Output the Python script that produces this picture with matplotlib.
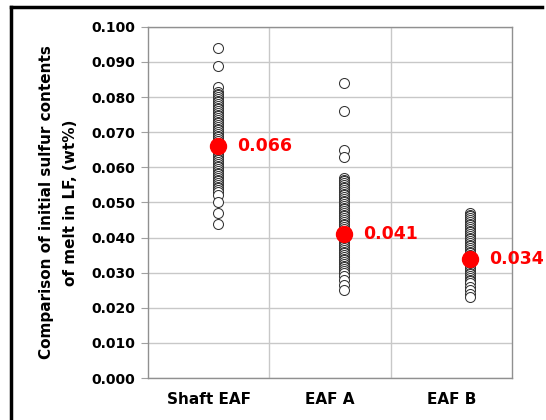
import matplotlib.pyplot as plt
from matplotlib.lines import Line2D

plt.rcParams['font.family'] = ['DejaVu Sans']

categories = ['Shaft EAF', 'EAF A', 'EAF B']

shaft_eaf = [0.094, 0.089, 0.083, 0.0815, 0.081, 0.0805, 0.080, 0.0795, 0.079, 0.0785,
             0.078, 0.0775, 0.077, 0.0765, 0.076, 0.0755, 0.075, 0.0745, 0.074, 0.0735,
             0.073, 0.0725, 0.072, 0.0715, 0.071, 0.0705, 0.070, 0.0695, 0.069, 0.0685,
             0.068, 0.0675, 0.067, 0.0665, 0.066, 0.0655, 0.065, 0.0645, 0.064, 0.0635,
             0.063, 0.0625, 0.062, 0.0615, 0.061, 0.0605, 0.060, 0.0595, 0.059, 0.0585,
             0.058, 0.0575, 0.057, 0.0565, 0.056, 0.0555, 0.055, 0.0545, 0.054, 0.0535,
             0.053, 0.052, 0.050, 0.047, 0.044]
eaf_a = [0.084, 0.076, 0.065, 0.063, 0.057, 0.0565, 0.056, 0.0555, 0.055, 0.0545,
         0.054, 0.0535, 0.053, 0.0525, 0.052, 0.0515, 0.051, 0.0505, 0.050, 0.0495,
         0.049, 0.0485, 0.048, 0.0475, 0.047, 0.0465, 0.046, 0.0455, 0.045, 0.0445,
         0.044, 0.0435, 0.043, 0.0425, 0.042, 0.0415, 0.041, 0.0405, 0.040, 0.0395,
         0.039, 0.0385, 0.038, 0.0375, 0.037, 0.0365, 0.036, 0.0355, 0.035, 0.0345,
         0.034, 0.0335, 0.033, 0.0325, 0.032, 0.0315, 0.031, 0.0305, 0.030, 0.029,
         0.028, 0.0265, 0.025]
eaf_b = [0.047, 0.0465, 0.046, 0.0455, 0.045, 0.0445, 0.044, 0.0435, 0.043, 0.0425,
         0.042, 0.0415, 0.041, 0.0405, 0.040, 0.0395, 0.039, 0.0385, 0.038, 0.0375,
         0.037, 0.0365, 0.036, 0.0355, 0.035, 0.0345, 0.034, 0.0335, 0.033, 0.0325,
         0.032, 0.0315, 0.031, 0.0305, 0.030, 0.0295, 0.029, 0.0285, 0.028, 0.0275,
         0.027, 0.026, 0.025, 0.024, 0.023]
means = [0.066, 0.041, 0.034]
mean_labels = ['0.066', '0.041', '0.034']

# points sit a bit right of each category centre, like the original
point_x = [0.577, 1.616, 2.654]
label_x = [0.5, 1.5, 2.5]

fig = plt.figure(figsize=(5.46, 4.2), dpi=100)
ax = fig.add_axes([0.271, 0.1, 0.667, 0.836])

for xpos, vals in zip(point_x, [shaft_eaf, eaf_a, eaf_b]):
    ax.plot([xpos] * len(vals), vals, 'o', markersize=7.2, markerfacecolor='white',
            markeredgecolor='#333333', markeredgewidth=0.75, linestyle='none', zorder=3)

for xpos, m, lab in zip(point_x, means, mean_labels):
    ax.plot(xpos, m, 'o', markersize=11.5, color='#ff0000', zorder=4)
    ax.text(xpos + 0.16, m, lab, color='#ff0000', fontsize=12.5, fontweight='bold',
            va='center', ha='left', zorder=5)

ax.set_xlim(0, 3)
ax.set_ylim(0, 0.1)
ax.set_yticks([i / 100 for i in range(11)])
ax.set_yticklabels(['%.3f' % (i / 100) for i in range(11)], fontsize=10, fontweight='bold')
ax.set_xticks(label_x)
ax.set_xticklabels(categories, fontsize=11, fontweight='bold')
ax.tick_params(axis='x', length=0, pad=10)
ax.tick_params(axis='y', length=5, color='#a0a0a0', pad=4)
ax.grid(axis='y', color='#c8c8c8', linewidth=1)
for xv in [1, 2]:
    ax.axvline(xv, color='#c8c8c8', linewidth=1)
ax.set_axisbelow(True)
for sp in ax.spines.values():
    sp.set_color('#909090')
    sp.set_linewidth(1)

ax.set_ylabel('Comparison of initial sulfur contents\nof melt in LF, (wt%)',
              fontsize=11, fontweight='bold', labelpad=10, linespacing=1.75)

# outer black frame (left and top edges visible)
fig.add_artist(Line2D([0.02, 0.02], [0, 0.983], color='black', linewidth=2.5,
                      transform=fig.transFigure))
fig.add_artist(Line2D([0.02, 0.992], [0.983, 0.983], color='black', linewidth=2.5,
                      transform=fig.transFigure))

fig.savefig('out.png', dpi=100)
